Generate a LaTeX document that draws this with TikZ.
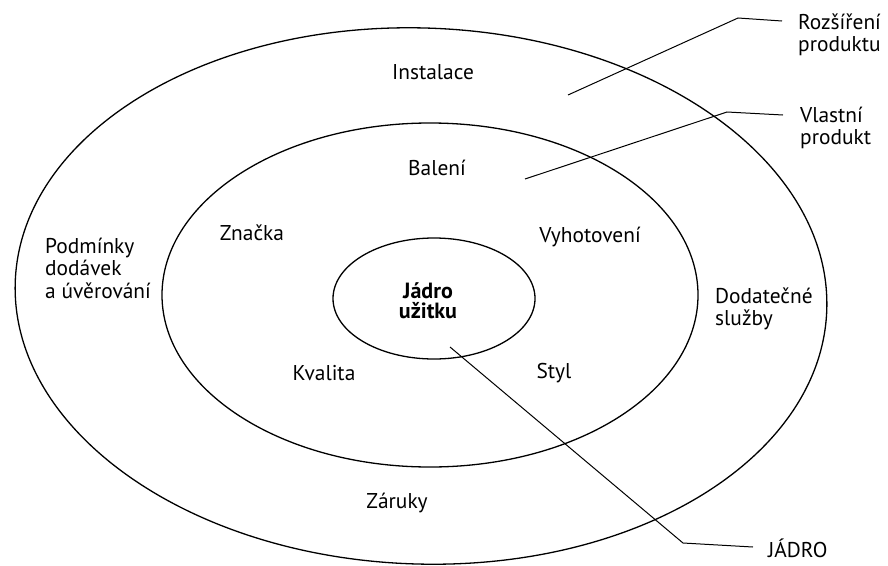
\documentclass[tikz,border=0pt]{standalone}
\usepackage{fontspec}
\setmainfont{PT Sans}
\begin{document}
\begin{tikzpicture}[x=1pt,y=-1pt,
  ring/.style={draw=black, line width=1.3pt},
  conn/.style={draw=black, line width=1pt},
  lbl/.style={inner sep=0pt, font=\fontsize{21.4}{22.5}\selectfont},
  lblleft/.style={lbl, align=left, anchor=west},
  core/.style={inner sep=0pt, align=center, font=\fontsize{22}{20}\selectfont\bfseries}]
\path[fill=white, use as bounding box] (0,0) rectangle (888,565);

% rings
\draw[ring, rotate around={-2:(421,296)}] (421,296) ellipse [x radius=406, y radius=268];
\draw[ring] (430,295) ellipse [x radius=268, y radius=172];
\draw[ring] (434,298.5) ellipse [x radius=101, y radius=60.5];

% labels inside rings
\node[lbl] (instalace) at (433,72) {Instalace};
\node[lbl] (baleni) at (437,168) {Balení};
\node[lbl] (znacka) at (252,233) {Značka};
\node[lbl] (vyhotoveni) at (590,237) {Vyhotovení};
\node[core] (jadrouz) at (428,301) {Jádro\\užitku};
\node[lblleft] (podminky) at (45,268) {Podmínky\\dodávek\\a úvěrování};
\node[lblleft] (dodatecne) at (715,309) {Dodatečné\\služby};
\node[lbl] (kvalita) at (324,373) {Kvalita};
\node[lbl] (styl) at (554,373) {Styl};
\node[lbl] (zaruky) at (397,503) {Záruky};

% side labels
\node[lblleft] (rozsireni) at (798,35) {Rozšíření\\produktu};
\node[lblleft] (vlastni) at (800,128) {Vlastní\\produkt};
\node[lblleft] (jadro) at (768,548) {JÁDRO};

% connectors
\coordinate (r1) at (568,95);
\coordinate (r2) at (738,18);
\coordinate (r3) at (782,21);
\coordinate (v1) at (525,179);
\coordinate (v2) at (727,112);
\coordinate (v3) at (783,115);
\coordinate (j1) at (450,347);
\coordinate (j2) at (683,543);
\coordinate (j3) at (753,547);
\draw[conn] (r1) -- (r2) -- (r3);
\draw[conn] (v1) -- (v2) -- (v3);
\draw[conn] (j1) -- (j2) -- (j3);
\end{tikzpicture}
\end{document}
